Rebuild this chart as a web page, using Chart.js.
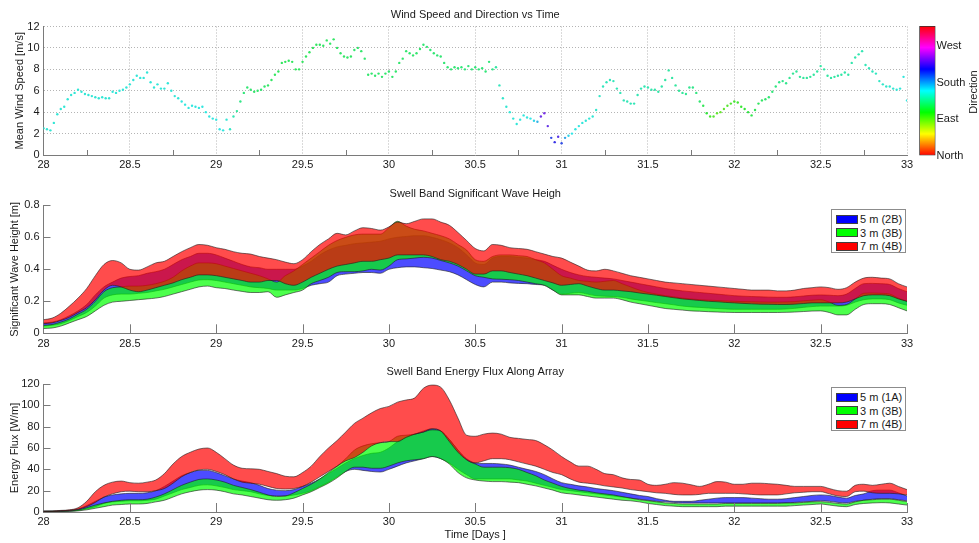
<!DOCTYPE html>
<html>
<head>
<meta charset="utf-8">
<script src="https://cdn.jsdelivr.net/npm/chart.js@4.4.1/dist/chart.umd.min.js"></script>
<style>
  body { margin: 0; background: #fff; font-family: "Liberation Sans", Arial, sans-serif; }
  #lienzo { position: relative; width: 979px; height: 543px; overflow: hidden; background: #fff; }
  #lienzo canvas { position: absolute; }
  .leyenda { position: absolute; background: #fff; border: 1px solid #8c8c8c; box-sizing: border-box;
             padding: 3px 0 0 4px; font-size: 11px; color: #1a1a1a; z-index: 2; }
  .fila { height: 13.6px; display: flex; align-items: center; white-space: nowrap; }
  .muestra { width: 22px; height: 9px; border: 1px solid #404040; box-sizing: border-box; margin-right: 2px; }
  #rotuloRumbo { position: absolute; left: 933px; top: 85px; width: 80px; height: 14px; line-height: 14px;
                 text-align: center; font-size: 11px; color: #1a1a1a; transform: rotate(-90deg); }
</style>
</head>
<body>
<div id="lienzo">
  <canvas id="graficoViento" width="979" height="175" style="left:0;top:0"></canvas>
  <canvas id="barraRumbo" width="74" height="175" style="left:905px;top:0"></canvas>
  <canvas id="graficoOleaje" width="979" height="180" style="left:0;top:175px"></canvas>
  <canvas id="graficoFlujo" width="979" height="188" style="left:0;top:355px"></canvas>
  <div id="leyendaOleaje" class="leyenda" style="left:831px;top:208.5px;width:75px;height:44.5px"></div>
  <div id="leyendaFlujo" class="leyenda" style="left:831px;top:386.5px;width:75px;height:44.5px"></div>
  <div id="rotuloRumbo">Direction</div>
</div>
<script>
/////////////////////////////// viento (cada 0.02 dias) ///////////////////////////////
const diasViento = [
  28, 28.02, 28.04, 28.06, 28.08, 28.1, 28.12, 28.14, 28.16, 28.18,
  28.2, 28.22, 28.24, 28.26, 28.28, 28.3, 28.32, 28.34, 28.36, 28.38,
  28.4, 28.42, 28.44, 28.46, 28.48, 28.5, 28.52, 28.54, 28.56, 28.58,
  28.6, 28.62, 28.64, 28.66, 28.68, 28.7, 28.72, 28.74, 28.76, 28.78,
  28.8, 28.82, 28.84, 28.86, 28.88, 28.9, 28.92, 28.94, 28.96, 28.98,
  29, 29.02, 29.04, 29.06, 29.08, 29.1, 29.12, 29.14, 29.16, 29.18,
  29.2, 29.22, 29.24, 29.26, 29.28, 29.3, 29.32, 29.34, 29.36, 29.38,
  29.4, 29.42, 29.44, 29.46, 29.48, 29.5, 29.52, 29.54, 29.56, 29.58,
  29.6, 29.62, 29.64, 29.66, 29.68, 29.7, 29.72, 29.74, 29.76, 29.78,
  29.8, 29.82, 29.84, 29.86, 29.88, 29.9, 29.92, 29.94, 29.96, 29.98,
  30, 30.02, 30.04, 30.06, 30.08, 30.1, 30.12, 30.14, 30.16, 30.18,
  30.2, 30.22, 30.24, 30.26, 30.28, 30.3, 30.32, 30.34, 30.36, 30.38,
  30.4, 30.42, 30.44, 30.46, 30.48, 30.5, 30.52, 30.54, 30.56, 30.58,
  30.6, 30.62, 30.64, 30.66, 30.68, 30.7, 30.72, 30.74, 30.76, 30.78,
  30.8, 30.82, 30.84, 30.86, 30.88, 30.9, 30.92, 30.94, 30.96, 30.98,
  31, 31.02, 31.04, 31.06, 31.08, 31.1, 31.12, 31.14, 31.16, 31.18,
  31.2, 31.22, 31.24, 31.26, 31.28, 31.3, 31.32, 31.34, 31.36, 31.38,
  31.4, 31.42, 31.44, 31.46, 31.48, 31.5, 31.52, 31.54, 31.56, 31.58,
  31.6, 31.62, 31.64, 31.66, 31.68, 31.7, 31.72, 31.74, 31.76, 31.78,
  31.8, 31.82, 31.84, 31.86, 31.88, 31.9, 31.92, 31.94, 31.96, 31.98,
  32, 32.02, 32.04, 32.06, 32.08, 32.1, 32.12, 32.14, 32.16, 32.18,
  32.2, 32.22, 32.24, 32.26, 32.28, 32.3, 32.32, 32.34, 32.36, 32.38,
  32.4, 32.42, 32.44, 32.46, 32.48, 32.5, 32.52, 32.54, 32.56, 32.58,
  32.6, 32.62, 32.64, 32.66, 32.68, 32.7, 32.72, 32.74, 32.76, 32.78,
  32.8, 32.82, 32.84, 32.86, 32.88, 32.9, 32.92, 32.94, 32.96, 32.98,
  33
];
const velocidadViento = [
  2.5, 2.4, 2.3, 3.0, 3.8, 4.3, 4.5, 5.2, 5.6, 5.8,
  6.1, 5.9, 5.7, 5.6, 5.5, 5.4, 5.3, 5.4, 5.3, 5.3,
  5.9, 5.8, 6.0, 6.1, 6.3, 6.6, 7.0, 7.4, 7.2, 7.2,
  7.7, 6.8, 6.3, 6.6, 6.2, 6.2, 6.7, 6.0, 5.5, 5.3,
  5.0, 4.7, 4.4, 4.6, 4.5, 4.4, 4.5, 4.0, 3.6, 3.4,
  3.3, 2.4, 2.3, 3.3, 2.4, 3.6, 4.1, 5.0, 5.8, 6.3,
  6.1, 5.9, 6.0, 6.1, 6.4, 6.5, 7.0, 7.5, 7.8, 8.6,
  8.7, 8.8, 8.7, 8.0, 8.0, 8.7, 9.2, 9.6, 10.0, 10.3,
  10.3, 10.2, 10.7, 10.4, 10.8, 10.0, 9.5, 9.2, 9.1, 9.2,
  9.8, 10.0, 9.7, 9.0, 7.5, 7.6, 7.4, 7.6, 7.3, 7.6,
  7.8, 7.3, 7.8, 8.6, 9.0, 9.7, 9.5, 9.3, 9.5, 9.9,
  10.3, 10.1, 9.8, 9.5, 9.3, 9.2, 8.6, 8.2, 8.0, 8.2,
  8.1, 8.2, 8.0, 8.3, 8.0, 8.2, 8.0, 8.1, 7.8, 8.7,
  8.0, 8.2, 6.5, 5.3, 4.5, 4.0, 3.4, 2.9, 3.3, 3.7,
  3.5, 3.4, 3.2, 3.1, 3.6, 3.9, 2.7, 1.6, 1.2, 1.7,
  1.1, 1.6, 1.8, 2.0, 2.4, 2.7, 3.0, 3.2, 3.4, 3.6,
  4.2, 5.5, 6.4, 6.8, 7.0, 6.9, 6.2, 5.8, 5.1, 5.0,
  4.8, 4.8, 5.6, 6.2, 6.4, 6.3, 6.1, 6.1, 5.9, 6.4,
  7.0, 7.9, 7.2, 6.5, 6.0, 5.8, 5.7, 6.3, 6.3, 5.8,
  5.0, 4.6, 3.9, 3.6, 3.6, 3.9, 4.0, 4.3, 4.6, 4.8,
  5.0, 4.9, 4.5, 4.3, 4.0, 3.7, 4.2, 4.8, 5.1, 5.2,
  5.4, 5.9, 6.4, 6.8, 6.9, 6.7, 7.2, 7.6, 7.8, 7.3,
  7.2, 7.2, 7.3, 7.5, 7.8, 8.3, 8.0, 7.4, 7.2, 7.3,
  7.4, 7.5, 7.7, 7.5, 8.6, 9.1, 9.4, 9.7, 8.4, 8.1,
  7.8, 7.6, 6.9, 6.6, 6.4, 6.4, 6.2, 6.1, 6.2, 7.3,
  5.1
];
// direccion en grados (escala de la barra de color 0-320)
const direccionViento = [
  155, 155, 155, 155, 155, 155, 155, 155, 155, 155,
  155, 155, 155, 155, 155, 155, 155, 155, 155, 155,
  156, 156, 156, 156, 156, 156, 156, 156, 156, 156,
  156, 156, 156, 156, 156, 156, 156, 156, 156, 156,
  158, 158, 158, 158, 158, 158, 158, 158, 158, 158,
  158, 160, 158, 155, 150, 145, 138, 132, 128, 126,
  125, 124, 124, 125, 124, 122, 121, 120, 120, 120,
  120, 120, 120, 120, 120, 120, 120, 120, 120, 120,
  122, 122, 122, 122, 122, 122, 122, 122, 122, 122,
  124, 124, 124, 124, 124, 124, 124, 124, 124, 124,
  124, 124, 124, 124, 124, 124, 124, 124, 124, 124,
  126, 126, 126, 126, 126, 126, 126, 126, 126, 126,
  128, 128, 128, 128, 128, 128, 128, 128, 128, 128,
  132, 140, 148, 152, 154, 155, 156, 156, 157, 157,
  158, 160, 165, 175, 232, 235, 228, 205, 215, 225,
  205, 180, 165, 160, 158, 158, 157, 156, 155, 155,
  152, 150, 148, 147, 147, 147, 146, 146, 146, 146,
  146, 146, 145, 145, 145, 144, 143, 142, 142, 142,
  140, 140, 140, 139, 138, 138, 136, 135, 133, 130,
  125, 118, 110, 100, 95, 92, 90, 92, 95, 98,
  100, 102, 105, 108, 112, 115, 118, 120, 122, 124,
  126, 128, 130, 132, 133, 134, 135, 136, 137, 138,
  138, 138, 138, 139, 139, 140, 140, 140, 140, 140,
  141, 141, 142, 142, 143, 143, 144, 145, 146, 147,
  148, 149, 150, 151, 152, 153, 154, 155, 156, 157,
  158
];
const rumbosGrados = [0, 90, 180, 270];
const rumbosNombre = ["North", "East", "South", "West"];
const rumboMaximo = 320;

/////////////////////////////// oleaje y flujo (cada 0.05 dias) ///////////////////////
const diasOleaje = [
  28, 28.05, 28.1, 28.15, 28.2, 28.25, 28.3, 28.35, 28.4, 28.45,
  28.5, 28.55, 28.6, 28.65, 28.7, 28.75, 28.8, 28.85, 28.9, 28.95,
  29, 29.05, 29.1, 29.15, 29.2, 29.25, 29.3, 29.35, 29.4, 29.45,
  29.5, 29.55, 29.6, 29.65, 29.7, 29.75, 29.8, 29.85, 29.9, 29.95,
  30, 30.05, 30.1, 30.15, 30.2, 30.25, 30.3, 30.35, 30.4, 30.45,
  30.5, 30.55, 30.6, 30.65, 30.7, 30.75, 30.8, 30.85, 30.9, 30.95,
  31, 31.05, 31.1, 31.15, 31.2, 31.25, 31.3, 31.35, 31.4, 31.45,
  31.5, 31.55, 31.6, 31.65, 31.7, 31.75, 31.8, 31.85, 31.9, 31.95,
  32, 32.05, 32.1, 32.15, 32.2, 32.25, 32.3, 32.35, 32.4, 32.45,
  32.5, 32.55, 32.6, 32.65, 32.7, 32.75, 32.8, 32.85, 32.9, 32.95,
  33
];
// altura significativa [m]: minimo y maximo de cada sensor
const hsAzulMin = [
  0.045, 0.05, 0.06, 0.08, 0.105, 0.13, 0.17, 0.22, 0.24, 0.245,
  0.245, 0.25, 0.255, 0.265, 0.275, 0.29, 0.305, 0.32, 0.333, 0.335,
  0.33, 0.32, 0.31, 0.30, 0.29, 0.285, 0.28, 0.27, 0.27, 0.27,
  0.28, 0.30, 0.31, 0.32, 0.36, 0.37, 0.375, 0.38, 0.38, 0.375,
  0.40, 0.41, 0.415, 0.415, 0.41, 0.405, 0.395, 0.385, 0.365, 0.335,
  0.305, 0.29, 0.32, 0.32, 0.315, 0.312, 0.31, 0.305, 0.30, 0.27,
  0.245, 0.25, 0.255, 0.245, 0.235, 0.232, 0.23, 0.225, 0.215, 0.207,
  0.20, 0.192, 0.185, 0.178, 0.17, 0.165, 0.162, 0.158, 0.155, 0.152,
  0.15, 0.15, 0.15, 0.15, 0.15, 0.15, 0.152, 0.156, 0.162, 0.167,
  0.17, 0.17, 0.17, 0.175, 0.195, 0.21, 0.215, 0.215, 0.21, 0.19,
  0.175
];
const hsAzulMax = [
  0.065, 0.07, 0.085, 0.11, 0.14, 0.18, 0.24, 0.29, 0.32, 0.345,
  0.355, 0.36, 0.375, 0.385, 0.40, 0.43, 0.46, 0.48, 0.50, 0.50,
  0.49, 0.47, 0.45, 0.43, 0.415, 0.41, 0.40, 0.40, 0.40, 0.40,
  0.42, 0.45, 0.49, 0.52, 0.54, 0.55, 0.56, 0.565, 0.57, 0.575,
  0.59, 0.60, 0.605, 0.61, 0.61, 0.60, 0.585, 0.565, 0.535, 0.49,
  0.44, 0.43, 0.47, 0.48, 0.48, 0.475, 0.47, 0.46, 0.45, 0.425,
  0.40, 0.38, 0.365, 0.355, 0.35, 0.345, 0.34, 0.33, 0.32, 0.31,
  0.30, 0.29, 0.28, 0.272, 0.265, 0.26, 0.255, 0.25, 0.245, 0.24,
  0.235, 0.232, 0.23, 0.228, 0.226, 0.225, 0.225, 0.228, 0.233, 0.238,
  0.24, 0.238, 0.235, 0.245, 0.28, 0.31, 0.312, 0.31, 0.305, 0.28,
  0.26
];
const hsVerdeMin = [
  0.03, 0.033, 0.045, 0.065, 0.085, 0.105, 0.14, 0.175, 0.195, 0.20,
  0.205, 0.21, 0.215, 0.22, 0.23, 0.245, 0.26, 0.275, 0.29, 0.295,
  0.285, 0.28, 0.27, 0.262, 0.255, 0.255, 0.26, 0.225, 0.24, 0.255,
  0.27, 0.31, 0.33, 0.35, 0.38, 0.385, 0.385, 0.39, 0.40, 0.395,
  0.42, 0.46, 0.465, 0.47, 0.475, 0.47, 0.455, 0.44, 0.42, 0.39,
  0.36, 0.35, 0.34, 0.338, 0.335, 0.33, 0.32, 0.31, 0.30, 0.27,
  0.24, 0.24, 0.24, 0.23, 0.22, 0.22, 0.22, 0.21, 0.195, 0.185,
  0.175, 0.165, 0.155, 0.15, 0.145, 0.14, 0.138, 0.135, 0.133, 0.131,
  0.13, 0.13, 0.13, 0.13, 0.13, 0.13, 0.131, 0.133, 0.136, 0.139,
  0.14, 0.13, 0.115, 0.115, 0.15, 0.18, 0.185, 0.185, 0.18, 0.16,
  0.14
];
const hsVerdeMax = [
  0.05, 0.055, 0.07, 0.09, 0.12, 0.15, 0.20, 0.26, 0.285, 0.29,
  0.295, 0.295, 0.30, 0.31, 0.325, 0.35, 0.39, 0.42, 0.44, 0.44,
  0.435, 0.42, 0.405, 0.39, 0.375, 0.36, 0.34, 0.32, 0.36, 0.39,
  0.43, 0.47, 0.51, 0.55, 0.58, 0.60, 0.615, 0.62, 0.62, 0.62,
  0.66, 0.70, 0.67, 0.65, 0.64, 0.625, 0.61, 0.59, 0.555, 0.52,
  0.46, 0.45, 0.48, 0.49, 0.49, 0.485, 0.48, 0.46, 0.44, 0.40,
  0.36, 0.345, 0.33, 0.325, 0.32, 0.325, 0.33, 0.31, 0.29, 0.27,
  0.255, 0.245, 0.235, 0.228, 0.22, 0.215, 0.21, 0.207, 0.205, 0.202,
  0.20, 0.198, 0.197, 0.196, 0.195, 0.195, 0.196, 0.198, 0.203, 0.207,
  0.21, 0.195, 0.175, 0.18, 0.215, 0.25, 0.252, 0.25, 0.245, 0.22,
  0.20
];
const hsRojoMin = [
  0.06, 0.065, 0.08, 0.10, 0.13, 0.16, 0.21, 0.27, 0.30, 0.29,
  0.27, 0.26, 0.27, 0.285, 0.30, 0.315, 0.335, 0.35, 0.365, 0.365,
  0.36, 0.35, 0.34, 0.33, 0.32, 0.32, 0.33, 0.33, 0.31, 0.30,
  0.32, 0.35, 0.375, 0.40, 0.42, 0.43, 0.44, 0.45, 0.45, 0.46,
  0.47, 0.49, 0.49, 0.49, 0.49, 0.48, 0.46, 0.45, 0.43, 0.40,
  0.37, 0.37, 0.39, 0.39, 0.38, 0.37, 0.36, 0.345, 0.33, 0.315,
  0.30, 0.305, 0.31, 0.295, 0.28, 0.27, 0.27, 0.265, 0.26, 0.252,
  0.245, 0.238, 0.23, 0.222, 0.215, 0.21, 0.205, 0.20, 0.197, 0.193,
  0.19, 0.187, 0.184, 0.182, 0.181, 0.18, 0.18, 0.182, 0.186, 0.19,
  0.19, 0.19, 0.19, 0.195, 0.215, 0.235, 0.24, 0.24, 0.235, 0.215,
  0.20
];
const hsRojoMax = [
  0.085, 0.095, 0.125, 0.17, 0.22, 0.28, 0.36, 0.43, 0.455, 0.44,
  0.40, 0.395, 0.415, 0.44, 0.45, 0.48, 0.51, 0.535, 0.555, 0.55,
  0.535, 0.525, 0.51, 0.50, 0.495, 0.48, 0.47, 0.46, 0.445, 0.435,
  0.46, 0.51, 0.555, 0.59, 0.625, 0.615, 0.64, 0.66, 0.655, 0.645,
  0.665, 0.695, 0.685, 0.70, 0.715, 0.715, 0.695, 0.675, 0.63, 0.58,
  0.53, 0.515, 0.555, 0.55, 0.535, 0.53, 0.525, 0.51, 0.495, 0.48,
  0.47, 0.445, 0.42, 0.395, 0.39, 0.40, 0.39, 0.375, 0.36, 0.35,
  0.34, 0.33, 0.32, 0.315, 0.31, 0.305, 0.30, 0.295, 0.29, 0.285,
  0.28, 0.275, 0.27, 0.27, 0.27, 0.265, 0.265, 0.27, 0.28, 0.285,
  0.29, 0.285, 0.275, 0.285, 0.32, 0.345, 0.35, 0.345, 0.34, 0.31,
  0.29
];
// flujo de energia [W/m]
const flujoAzulMin = [
  0.3, 0.4, 0.6, 0.8, 1.5, 3, 5, 8, 9.5, 10,
  10.5, 10.5, 11, 12, 15, 18, 21, 23, 25, 25.5,
  24.5, 23, 21, 20, 19, 17, 15.5, 15, 15, 16,
  17.5, 20, 24, 28, 33, 38, 40, 39, 38, 37.5,
  40, 43, 46, 48, 50, 52, 50, 46, 40, 35,
  31, 31, 31, 31, 31, 30, 29, 27, 25, 23,
  21, 20, 19, 18, 17, 16, 15, 14, 13, 12,
  11, 10, 9.5, 9, 8.5, 8.5, 8.5, 8.5, 8.5, 8.5,
  8.5, 8.5, 8.5, 8.5, 8.5, 8.5, 8.5, 9, 9.5, 10,
  10.5, 10, 9, 8.5, 10, 11, 12, 12.5, 12.5, 11.5,
  10.5
];
const flujoAzulMax = [
  0.8, 0.9, 1.2, 1.6, 2.8, 6, 10, 14, 16, 17,
  17.5, 17.5, 18, 20, 24, 29, 34, 37, 39, 39,
  37, 34, 31, 29, 27.5, 25, 22, 20.5, 20, 21,
  24, 27, 31, 36, 41, 46, 50, 53, 55, 56,
  60, 66, 70, 73, 76, 78, 76, 68, 58, 50,
  46, 45.5, 45.5, 45, 44, 42, 40, 38, 35, 31,
  27.5, 26, 24.5, 23.5, 22, 21, 20, 18.5, 17, 15.5,
  14.5, 12.5, 11, 10, 10, 10, 11, 12, 13, 13.5,
  13.5, 13.5, 13, 12.5, 12, 12, 12.5, 13.5, 14.5, 15.5,
  16, 15.5, 14, 13, 15.5, 17, 20, 20.5, 20.5, 18,
  15
];
const flujoVerdeMin = [
  0.2, 0.3, 0.4, 0.6, 1, 2, 3.5, 5, 6.5, 7,
  7.5, 7.5, 8, 9.5, 11, 14, 17, 19, 20.5, 21,
  20.5, 19, 17, 16, 14.5, 13, 11.5, 11, 11.5, 13,
  16, 19, 23, 27, 32, 38, 42, 42, 41, 41,
  43, 46, 48, 49, 50, 52, 50, 45, 37, 32,
  30, 29, 28.5, 28.5, 28, 27.5, 26, 24.5, 22.5, 20.5,
  18, 17, 16, 15, 14, 13, 12, 11, 10.5, 9.5,
  8, 7, 6, 5.5, 5, 5, 5, 5, 5, 5.5,
  5.5, 5.5, 5.5, 5.5, 5.5, 5.5, 5.5, 6, 6.5, 7,
  7.5, 6.5, 5.5, 5, 7, 8, 8.5, 8.75, 8.5, 7.5,
  6.5
];
const flujoVerdeMax = [
  0.5, 0.6, 0.8, 1.1, 2, 4, 6.5, 8.5, 10, 11,
  11.5, 11.5, 12, 14, 17, 21, 25, 28, 30.5, 31,
  30, 28, 25, 23, 21, 18.5, 16, 14.5, 15, 18,
  22, 26, 31, 37, 43, 50, 58, 62, 64, 65,
  66, 71, 72, 73, 75, 77, 76, 68, 58, 49,
  45, 42, 42, 42, 41.5, 40, 37, 34, 30, 27,
  24, 22, 20.5, 19.5, 18, 17, 16, 14.5, 13, 11.5,
  10.6, 9.5, 8.5, 8, 7.5, 7.5, 7.5, 7.5, 7.5, 8,
  8, 8, 8, 8, 8, 8, 8.5, 8.5, 9, 9.5,
  9.7, 9, 8, 7.5, 9.5, 11, 11.5, 12, 12, 11,
  9.7
];
const flujoRojoMin = [
  0.5, 0.6, 1, 1.5, 2.5, 5, 9, 14, 17, 19,
  19.5, 19, 19, 20, 22, 27, 33, 37, 39.5, 40,
  38, 35, 31, 28, 27, 26, 24, 22, 21.5, 22,
  24, 28, 33, 38, 43, 48, 51, 56, 62, 65,
  66, 66, 70, 73, 75, 78, 76, 66, 56, 49,
  46, 48, 50, 50, 49, 47, 45, 43, 40, 37,
  35, 31, 28, 27, 26, 24.5, 23.5, 22.5, 21, 20,
  19, 18, 17.5, 16.5, 16, 16, 16.5, 17.5, 17.5, 17.5,
  17.5, 17, 16.5, 16, 16, 16, 17, 18, 18.5, 19,
  19, 17, 15, 14.5, 19, 19.5, 18, 17.5, 17.5, 17,
  16
];
const flujoRojoMax = [
  1, 1, 1.5, 2, 4, 10, 19, 25, 28, 29,
  27.5, 27, 28, 30, 36, 45, 52, 56, 59, 60,
  56, 50, 44, 41, 40.5, 40, 38, 36, 33.5, 33,
  37, 43, 52, 60, 67, 75, 83, 88, 93, 97,
  99, 103, 105, 107, 116, 119, 117, 105, 88, 72,
  71, 73, 74, 73, 70, 69, 68, 67, 63, 58,
  52, 47, 43, 43, 40, 36, 35, 32, 30.5, 30,
  26, 25, 26, 27.5, 27, 25.5, 24, 26, 28.5, 28,
  26, 26, 27, 27, 26.5, 26, 25, 24, 24, 24,
  24, 22, 20, 19.5, 25, 26, 25, 26, 27, 24,
  21
];
const nombresOleaje = ["5 m (2B)", "3 m (3B)", "7 m (4B)"];
const nombresFlujo = ["5 m (1A)", "3 m (3B)", "7 m (4B)"];
const coloresSensor = ["#0000ff", "#00ff00", "#ff0000"];
const rellenosSensor = ["rgba(0,0,255,0.7)", "rgba(0,255,0,0.7)", "rgba(255,0,0,0.7)"];

// posiciones de las marcas cortas dentro de los ejes
const marcasCuartoDia = [28.25, 28.75, 29.25, 29.75, 30.25, 30.75, 31.25, 31.75, 32.25, 32.75];
const marcasMedioDia = [28.5, 29, 29.5, 30, 30.5, 31, 31.5, 32, 32.5, 33];
const marcasOleaje = [0.2, 0.4, 0.6, 0.8];
const marcasFlujo = [20, 40, 60, 80, 100, 120];
/////////////////////////////////////////////////////////////////////////////////////

const fuente = '"Liberation Sans", Arial, sans-serif';
const colorTexto = "#1a1a1a";
const colorEje = "#7a7a7a";
Chart.defaults.font.family = fuente;
Chart.defaults.font.size = 11;
Chart.defaults.color = colorTexto;

// marcas de los ejes hacia adentro, como en matlab
const marcasInternas = {
  id: "marcasInternas",
  afterDatasetsDraw(chart, args, opciones) {
    const { ctx, chartArea, scales } = chart;
    ctx.save();
    ctx.strokeStyle = colorEje;
    ctx.lineWidth = 1;
    ctx.beginPath();
    (opciones.x || []).forEach((valor) => {
      const px = Math.round(scales.x.getPixelForValue(valor)) + 0.5;
      ctx.moveTo(px, chartArea.bottom);
      ctx.lineTo(px, chartArea.bottom - opciones.largoX);
    });
    (opciones.y || []).forEach((valor) => {
      const py = Math.round(scales.y.getPixelForValue(valor)) + 0.5;
      ctx.moveTo(chartArea.left, py);
      ctx.lineTo(chartArea.left + opciones.largoY, py);
    });
    ctx.stroke();
    ctx.restore();
  },
};

function colorRumbo(grados) {
  const tono = (grados / rumboMaximo) * 360;
  return `hsl(${tono}, 78%, 55%)`;
}

function ejeX(alto, padTicks, titulo, padTitulo, cuadricula) {
  return {
    type: "linear",
    min: 28,
    max: 33,
    afterFit: (escala) => { escala.height = alto; },
    ticks: {
      stepSize: 0.5,
      autoSkip: false,
      maxRotation: 0,
      padding: padTicks,
      color: colorTexto,
      callback: (valor) => String(Math.round(valor * 100) / 100),
    },
    grid: cuadricula
      ? { display: true, color: "#b4b4b4", drawTicks: false }
      : { display: false, drawTicks: false },
    border: { display: true, color: colorEje, width: 1, dash: [1, 2] },
    title: { display: !!titulo, text: titulo || "", padding: { top: 0, bottom: padTitulo }, color: colorTexto },
  };
}

function ejeY(min, max, paso, titulo, padTitulo, cuadricula) {
  return {
    min: min,
    max: max,
    afterFit: (escala) => { escala.width = 43.5; },
    ticks: {
      stepSize: paso,
      padding: 4,
      color: colorTexto,
      callback: (valor) => String(Math.round(valor * 100) / 100),
    },
    grid: cuadricula
      ? { display: true, color: "#b4b4b4", drawTicks: false }
      : { display: false, drawTicks: false },
    border: { display: true, color: colorEje, width: 1, dash: [1, 2] },
    title: { display: true, text: titulo, padding: { top: padTitulo, bottom: 0 }, color: colorTexto },
  };
}

function titulo(texto, arriba, abajo) {
  return {
    display: true,
    text: texto,
    fullSize: false,
    color: colorTexto,
    font: { size: 11, weight: "normal" },
    padding: { top: arriba, bottom: abajo },
  };
}

// tres bandas (min-max) por grafico; la roja queda encima
function bandas(minimos, maximos) {
  const conjuntos = [];
  minimos.forEach((serieMin, i) => {
    const orden = 3 - i;
    const comun = {
      order: orden,
      borderColor: "rgba(30,30,30,0.75)",
      borderWidth: 0.8,
      pointRadius: 0,
      cubicInterpolationMode: "monotone",
    };
    conjuntos.push({
      ...comun,
      data: diasOleaje.map((dia, k) => ({ x: dia, y: serieMin[k] })),
      fill: false,
    });
    conjuntos.push({
      ...comun,
      data: diasOleaje.map((dia, k) => ({ x: dia, y: maximos[i][k] })),
      fill: "-1",
      backgroundColor: rellenosSensor[i],
    });
  });
  return conjuntos;
}

function leyenda(id, nombres) {
  const caja = document.getElementById(id);
  caja.innerHTML = nombres
    .map((nombre, i) => `<div class="fila"><span class="muestra" style="background:${coloresSensor[i]}"></span>${nombre}</div>`)
    .join("");
}

//////////////////////////////////// Graficos //////////////////////////////////////
new Chart(document.getElementById("graficoViento"), {
  type: "scatter",
  data: {
    datasets: [
      {
        data: diasViento.map((dia, i) => ({ x: dia, y: velocidadViento[i] })),
        pointBackgroundColor: direccionViento.map(colorRumbo),
        pointBorderWidth: 0,
        pointRadius: 1.2,
      },
    ],
  },
  options: {
    responsive: false,
    animation: false,
    layout: { padding: { left: 0, right: 72, top: 0, bottom: 0 } },
    plugins: {
      legend: { display: false },
      tooltip: { enabled: false },
      title: titulo("Wind Speed and Direction vs Time", 8, 5.3),
      marcasInternas: { x: marcasCuartoDia, largoX: 5, y: [], largoY: 0 },
    },
    scales: {
      x: ejeX(20, 3, null, 0, true),
      y: ejeY(0, 12, 2, "Mean Wind Speed [m/s]", 13.4, true),
    },
  },
  plugins: [marcasInternas],
});

new Chart(document.getElementById("barraRumbo"), {
  type: "bar",
  data: {
    labels: [""],
    datasets: [
      {
        data: [[0, rumboMaximo]],
        barPercentage: 1,
        categoryPercentage: 1,
        borderWidth: 1,
        borderColor: "#333",
        borderSkipped: false,
        backgroundColor: (contexto) => {
          const area = contexto.chart.chartArea;
          if (!area) return "#ccc";
          const degradado = contexto.chart.ctx.createLinearGradient(0, area.bottom, 0, area.top);
          ["#ff0000", "#ffff00", "#00ff00", "#00ffff", "#0000ff", "#ff00ff", "#ff0000"].forEach((c, i) => {
            degradado.addColorStop(i / 6, c);
          });
          return degradado;
        },
      },
    ],
  },
  options: {
    responsive: false,
    animation: false,
    layout: { padding: { left: 14.3, right: 0, top: 26, bottom: 19.5 } },
    plugins: { legend: { display: false }, tooltip: { enabled: false } },
    scales: {
      x: { display: false },
      y: {
        position: "right",
        min: 0,
        max: rumboMaximo,
        afterFit: (escala) => { escala.width = 43.5; },
        afterBuildTicks: (escala) => { escala.ticks = rumbosGrados.map((v) => ({ value: v })); },
        ticks: {
          padding: 1,
          color: colorTexto,
          callback: (valor) => rumbosNombre[rumbosGrados.indexOf(valor)],
        },
        grid: { display: false, drawTicks: false },
        border: { display: false },
      },
    },
  },
});

new Chart(document.getElementById("graficoOleaje"), {
  type: "line",
  data: { datasets: bandas([hsAzulMin, hsVerdeMin, hsRojoMin], [hsAzulMax, hsVerdeMax, hsRojoMax]) },
  options: {
    responsive: false,
    animation: false,
    layout: { padding: { left: 0, right: 72, top: 0, bottom: 0 } },
    plugins: {
      legend: { display: false },
      tooltip: { enabled: false },
      title: titulo("Swell Band Significant Wave Heigh", 12, 5.1),
      marcasInternas: { x: marcasMedioDia, largoX: 9, y: marcasOleaje, largoY: 7 },
    },
    scales: {
      x: ejeX(21.7, 4, null, 0, false),
      y: ejeY(0, 0.8, 0.2, "Significant Wave Height [m]", 8.4, false),
    },
  },
  plugins: [marcasInternas],
});

new Chart(document.getElementById("graficoFlujo"), {
  type: "line",
  data: { datasets: bandas([flujoAzulMin, flujoVerdeMin, flujoRojoMin], [flujoAzulMax, flujoVerdeMax, flujoRojoMax]) },
  options: {
    responsive: false,
    animation: false,
    layout: { padding: { left: 0, right: 72, top: 0, bottom: 0 } },
    plugins: {
      legend: { display: false },
      tooltip: { enabled: false },
      title: titulo("Swell Band Energy Flux Along Array", 10.4, 5.4),
      marcasInternas: { x: marcasMedioDia, largoX: 9, y: marcasFlujo, largoY: 7 },
    },
    scales: {
      x: ejeX(31, 3.5, "Time [Days ]", 1.4, false),
      y: ejeY(0, 120, 20, "Energy Flux [W/m]", 8.4, false),
    },
  },
  plugins: [marcasInternas],
});

leyenda("leyendaOleaje", nombresOleaje);
leyenda("leyendaFlujo", nombresFlujo);
</script>
</body>
</html>
